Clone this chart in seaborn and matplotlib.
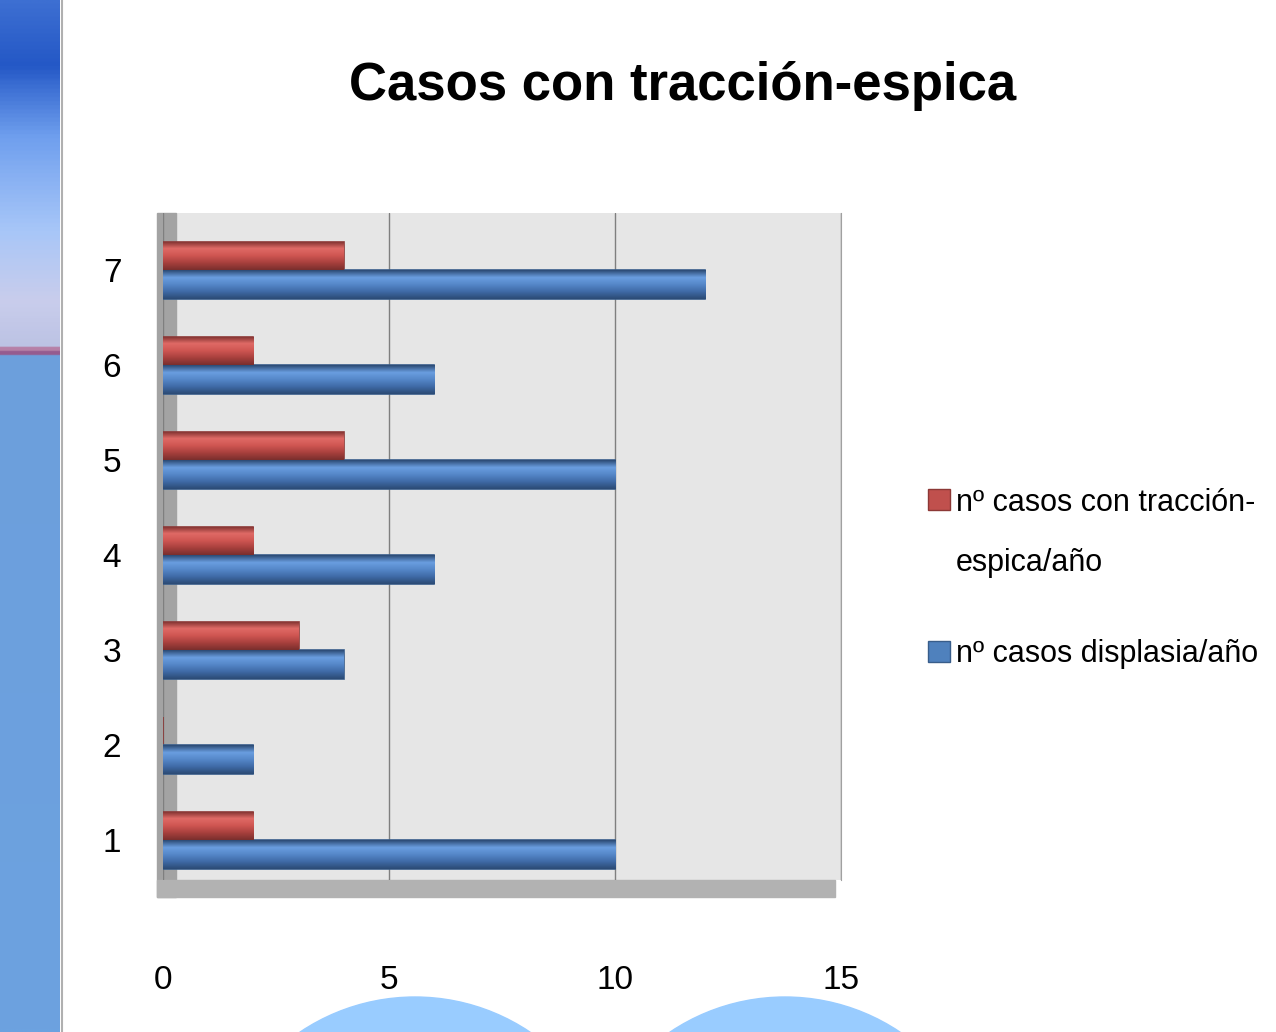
import numpy as np
import pandas as pd
import matplotlib
matplotlib.use("Agg")
import matplotlib.pyplot as plt
from matplotlib.patches import Rectangle, Circle
from matplotlib.lines import Line2D
from matplotlib.colors import LinearSegmentedColormap
import seaborn as sns

sns.set_style("white")
plt.rcParams['font.family'] = ['Liberation Sans', 'DejaVu Sans']
plt.rcParams['text.color'] = 'black'

# data
years = ['7', '6', '5', '4', '3', '2', '1']
traccion = [4, 2, 4, 2, 3, 0, 2]
displasia = [12, 6, 10, 6, 4, 2, 10]
series = ['nº casos con tracción-\nespica/año', 'nº casos displasia/año']
colors = ['#C0504D', '#4F81BD']
edges = ['#8C3836', '#385D8A']
shades = [['#7a2f2d', '#e06a66', '#cf5652', '#a8403d', '#7a2f2d'],
          ['#2c4b75', '#6a9ee0', '#5587c8', '#3f6aa6', '#2c4b75']]

df = pd.DataFrame({
    'year': years * 2,
    'value': traccion + displasia,
    'serie': [series[0]] * len(years) + [series[1]] * len(years),
})

W, H = 1276, 1032
fig = plt.figure(figsize=(W / 100, H / 100), dpi=100)
fig.patch.set_facecolor('white')

# slide background strip on the left
strip = fig.add_axes([0, 0, 60 / W, 1])
cmap = LinearSegmentedColormap.from_list('strip', [
    (0.0, '#3d6fd2'), (0.06, '#2458c6'), (0.13, '#6f9fee'),
    (0.22, '#a7c6f8'), (0.29, '#c9cdec'), (0.335, '#bcc3e4'),
    (0.340, '#b0305e'), (0.343, '#6d9fdc'), (1.0, '#6ca2e0')])
grad = np.linspace(0, 1, 500).reshape(-1, 1)
strip.imshow(grad, aspect='auto', cmap=cmap, extent=[0, 1, 1, 0])
strip.set_axis_off()
fig.add_artist(Line2D([62 / W, 62 / W], [0, 1], color='#b0b0b0', lw=1.5,
                      transform=fig.transFigure))

# light blue circles peeking at the bottom
for cx in [4.15, 7.85]:
    fig.add_artist(Circle((cx, -1.71), 2.06, color='#99CCFF',
                          transform=fig.dpi_scale_trans, zorder=0))

ax = fig.add_axes([163 / W, 1 - 880 / H, (841 - 163) / W, (880 - 213) / H])
ax.set_facecolor('#E6E6E6')
sns.barplot(data=df, x='value', y='year', hue='serie', order=years,
            hue_order=series, palette=colors, orient='h', width=0.6,
            saturation=1, ax=ax, legend=True)

ax.set_xlim(0, 15)
ax.set_ylim(6.42, -0.6)

# cylinder-like shading inside each bar
vgrad = np.linspace(0, 1, 64).reshape(-1, 1)
for cont, ec, sh in zip(ax.containers, edges, shades):
    cm = LinearSegmentedColormap.from_list('bar', sh)
    for bar in cont:
        bar.set_edgecolor(ec)
        bar.set_linewidth(1.2)
        x0, y0 = bar.get_x(), bar.get_y()
        w, h = bar.get_width(), bar.get_height()
        if w <= 0:
            continue
        im = ax.imshow(vgrad, cmap=cm, aspect='auto',
                       extent=[x0, x0 + w, y0 + h, y0], zorder=bar.get_zorder() + 0.1)
        im.set_clip_path(bar)
ax.set_xlim(0, 15)
ax.set_ylim(6.42, -0.6)

ax.set_xticks([0, 5, 10, 15])
ax.xaxis.grid(True, color='#7f7f7f', lw=1)
ax.set_axisbelow(True)
for s in ['top', 'left', 'bottom']:
    ax.spines[s].set_visible(False)
ax.spines['right'].set_color('#a0a0a0')
ax.tick_params(axis='x', length=0, pad=61, labelsize=24, labelcolor='black')
ax.tick_params(axis='y', length=0, pad=30, labelsize=24, labelcolor='black')
ax.set_xlabel('')
ax.set_ylabel('')

# 3d-ish side wall and floor
ax.add_patch(Rectangle((-0.009, -0.025), 0.028, 1.025, transform=ax.transAxes,
                       color='#a3a3a3', clip_on=False, zorder=0.5))
ax.add_patch(Rectangle((-0.009, -0.025), 1.0, 0.025, transform=ax.transAxes,
                       color='#b2b2b2', clip_on=False, zorder=0.5))

ax.get_legend().remove()
handles = [Rectangle((0, 0), 1, 1, facecolor=c, edgecolor=e)
           for c, e in zip(colors, edges)]
leg = fig.legend(handles, series, loc='center left',
                 bbox_to_anchor=(0.706, 0.439), frameon=False, fontsize=22,
                 handlelength=0.7, handleheight=0.7, handletextpad=0.2,
                 labelspacing=2.0)
for t in leg.get_texts():
    t.set_linespacing(2.3)
# first handle sits next to the first text line
h0 = leg.legend_handles[0]
h0.set_y(h0.get_y() + 25)

fig.text(683 / W, 1 - 86 / H, 'Casos con tracción-espica', ha='center',
         va='center', fontsize=38, fontweight='bold', color='black')

fig.savefig('out.png', dpi=100)
